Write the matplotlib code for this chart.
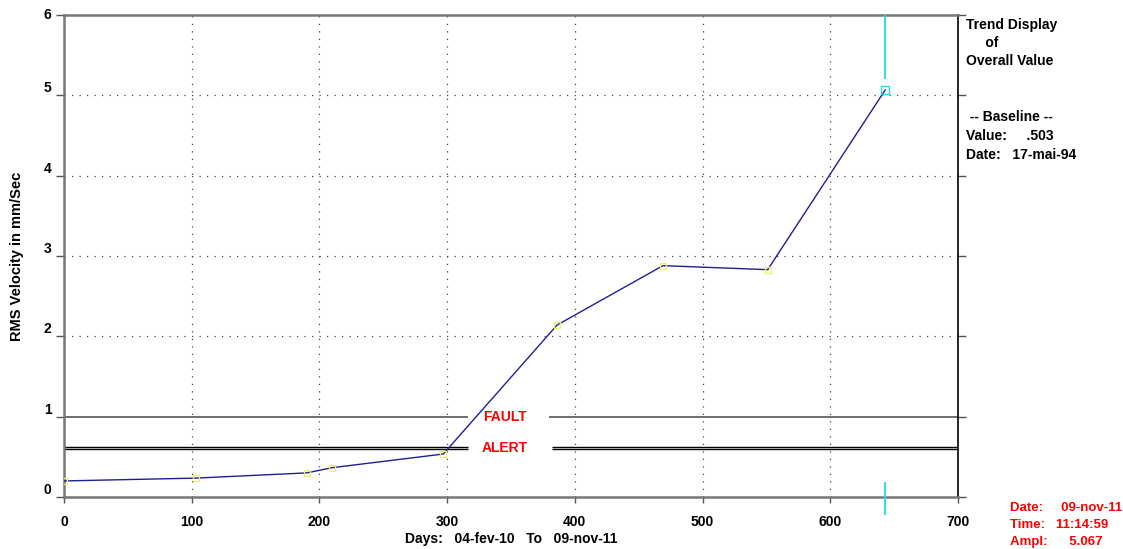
import numpy as np
import matplotlib.pyplot as plt

# Trend data: days since first reading vs overall RMS velocity
days = [0, 103, 190, 210, 297, 386, 469, 551, 643]
rms = [0.20, 0.235, 0.30, 0.365, 0.535, 2.14, 2.88, 2.83, 5.067]

fault_level = 1.0
alert_levels = [0.62, 0.595]

x_ticks = [0, 100, 200, 300, 400, 500, 600, 700]
y_ticks = [0, 1, 2, 3, 4, 5, 6]

side_lines = ["Trend Display", "     of", "Overall Value", "",
              " -- Baseline --", "Value:     .503", "Date:   17-mai-94"]
cursor_lines = ["Date:     09-nov-11", "Time:   11:14:59", "Ampl:      5.067"]

plt.rcParams['font.family'] = ['Liberation Sans', 'DejaVu Sans']
plt.rcParams['font.weight'] = 'bold'

fig = plt.figure(figsize=(11.23, 5.49), dpi=100)
ax = fig.add_axes([64 / 1123, 1 - 497 / 549, (958 - 64) / 1123, (497 - 15) / 549])

ax.set_xlim(0, 700)
ax.set_ylim(0, 6)

# grid (the y=1 row is covered by the fault line)
for gx in x_ticks[1:-1]:
    ax.axvline(gx, color='#444444', lw=0.9, ls=(0, (1, 5)), zorder=1)
for gy in y_ticks[2:-1]:
    ax.axhline(gy, color='#444444', lw=0.9, ls=(0, (1, 5)), zorder=1)

# alarm lines, broken where the labels sit
gap = (316, 382)
ax.hlines(fault_level, 0, gap[0], color='#555555', lw=1.2, zorder=2)
ax.hlines(fault_level, gap[1] - 2, 700, color='#555555', lw=1.2, zorder=2)
for lvl in alert_levels:
    ax.hlines(lvl, 0, gap[0], color='black', lw=1.0, zorder=2)
    ax.hlines(lvl, gap[1], 700, color='black', lw=1.0, zorder=2)
ax.text(345, fault_level, "FAULT", color='red', fontsize=10, fontweight='bold',
        ha='center', va='center', zorder=3)
ax.text(345, np.mean(alert_levels), "ALERT", color='red', fontsize=10, fontweight='bold',
        ha='center', va='center', zorder=3)

# trend
ax.plot(days, rms, color='#1f1f94', lw=1.0, zorder=4)
ax.plot(days[:-1], rms[:-1], ls='none', marker='s', ms=5, mfc='none',
        mec='#f0f060', mew=0.9, zorder=5)

# cursor on last reading
ax.plot([days[-1]], [rms[-1]], ls='none', marker='s', ms=6, mfc='none',
        mec='#22d8e8', mew=1.0, zorder=6)
ax.vlines(days[-1], 5.2, 6.0, color='#22d8e8', lw=1.3, zorder=6)
ax.vlines(days[-1], -0.22, 0.19, color='#22d8e8', lw=1.3, zorder=6, clip_on=False)

# spines and ticks
for side in ['top', 'left', 'bottom']:
    ax.spines[side].set_color('#777777')
    ax.spines[side].set_linewidth(1.8)
ax.spines['right'].set_color('black')
ax.spines['right'].set_linewidth(1.2)

ax.set_xticks(x_ticks)
ax.set_yticks(y_ticks)
ax.tick_params(axis='x', length=4, width=1, color='#555555', pad=9, labelsize=10)
ax.tick_params(axis='y', length=6, width=1, color='#555555', pad=3, labelsize=10,
               right=True)
ylabels = ax.get_yticklabels()
for lab in ylabels[:-1]:
    lab.set_verticalalignment('bottom')
ylabels[-1].set_verticalalignment('center')
for lab in ax.get_xticklabels() + ylabels:
    lab.set_fontweight('bold')

ax.set_ylabel("RMS Velocity in mm/Sec", fontsize=10.5, fontweight='bold', labelpad=14)
ax.set_xlabel("Days:   04-fev-10   To   09-nov-11", fontsize=10, fontweight='bold',
              labelpad=2)

# side panel text
for i, s in enumerate(side_lines):
    y = 25 + 18 * i if i < 4 else 117 + 19 * (i - 4)
    fig.text(966 / 1123, 1 - y / 549, s, fontsize=10, fontweight='bold',
             va='center', ha='left')
for i, s in enumerate(cursor_lines):
    fig.text(1010 / 1123, 1 - (508 + 17 * i) / 549, s, color='red', fontsize=9.5,
             fontweight='bold', va='center', ha='left')

fig.savefig("out.png", dpi=100)
